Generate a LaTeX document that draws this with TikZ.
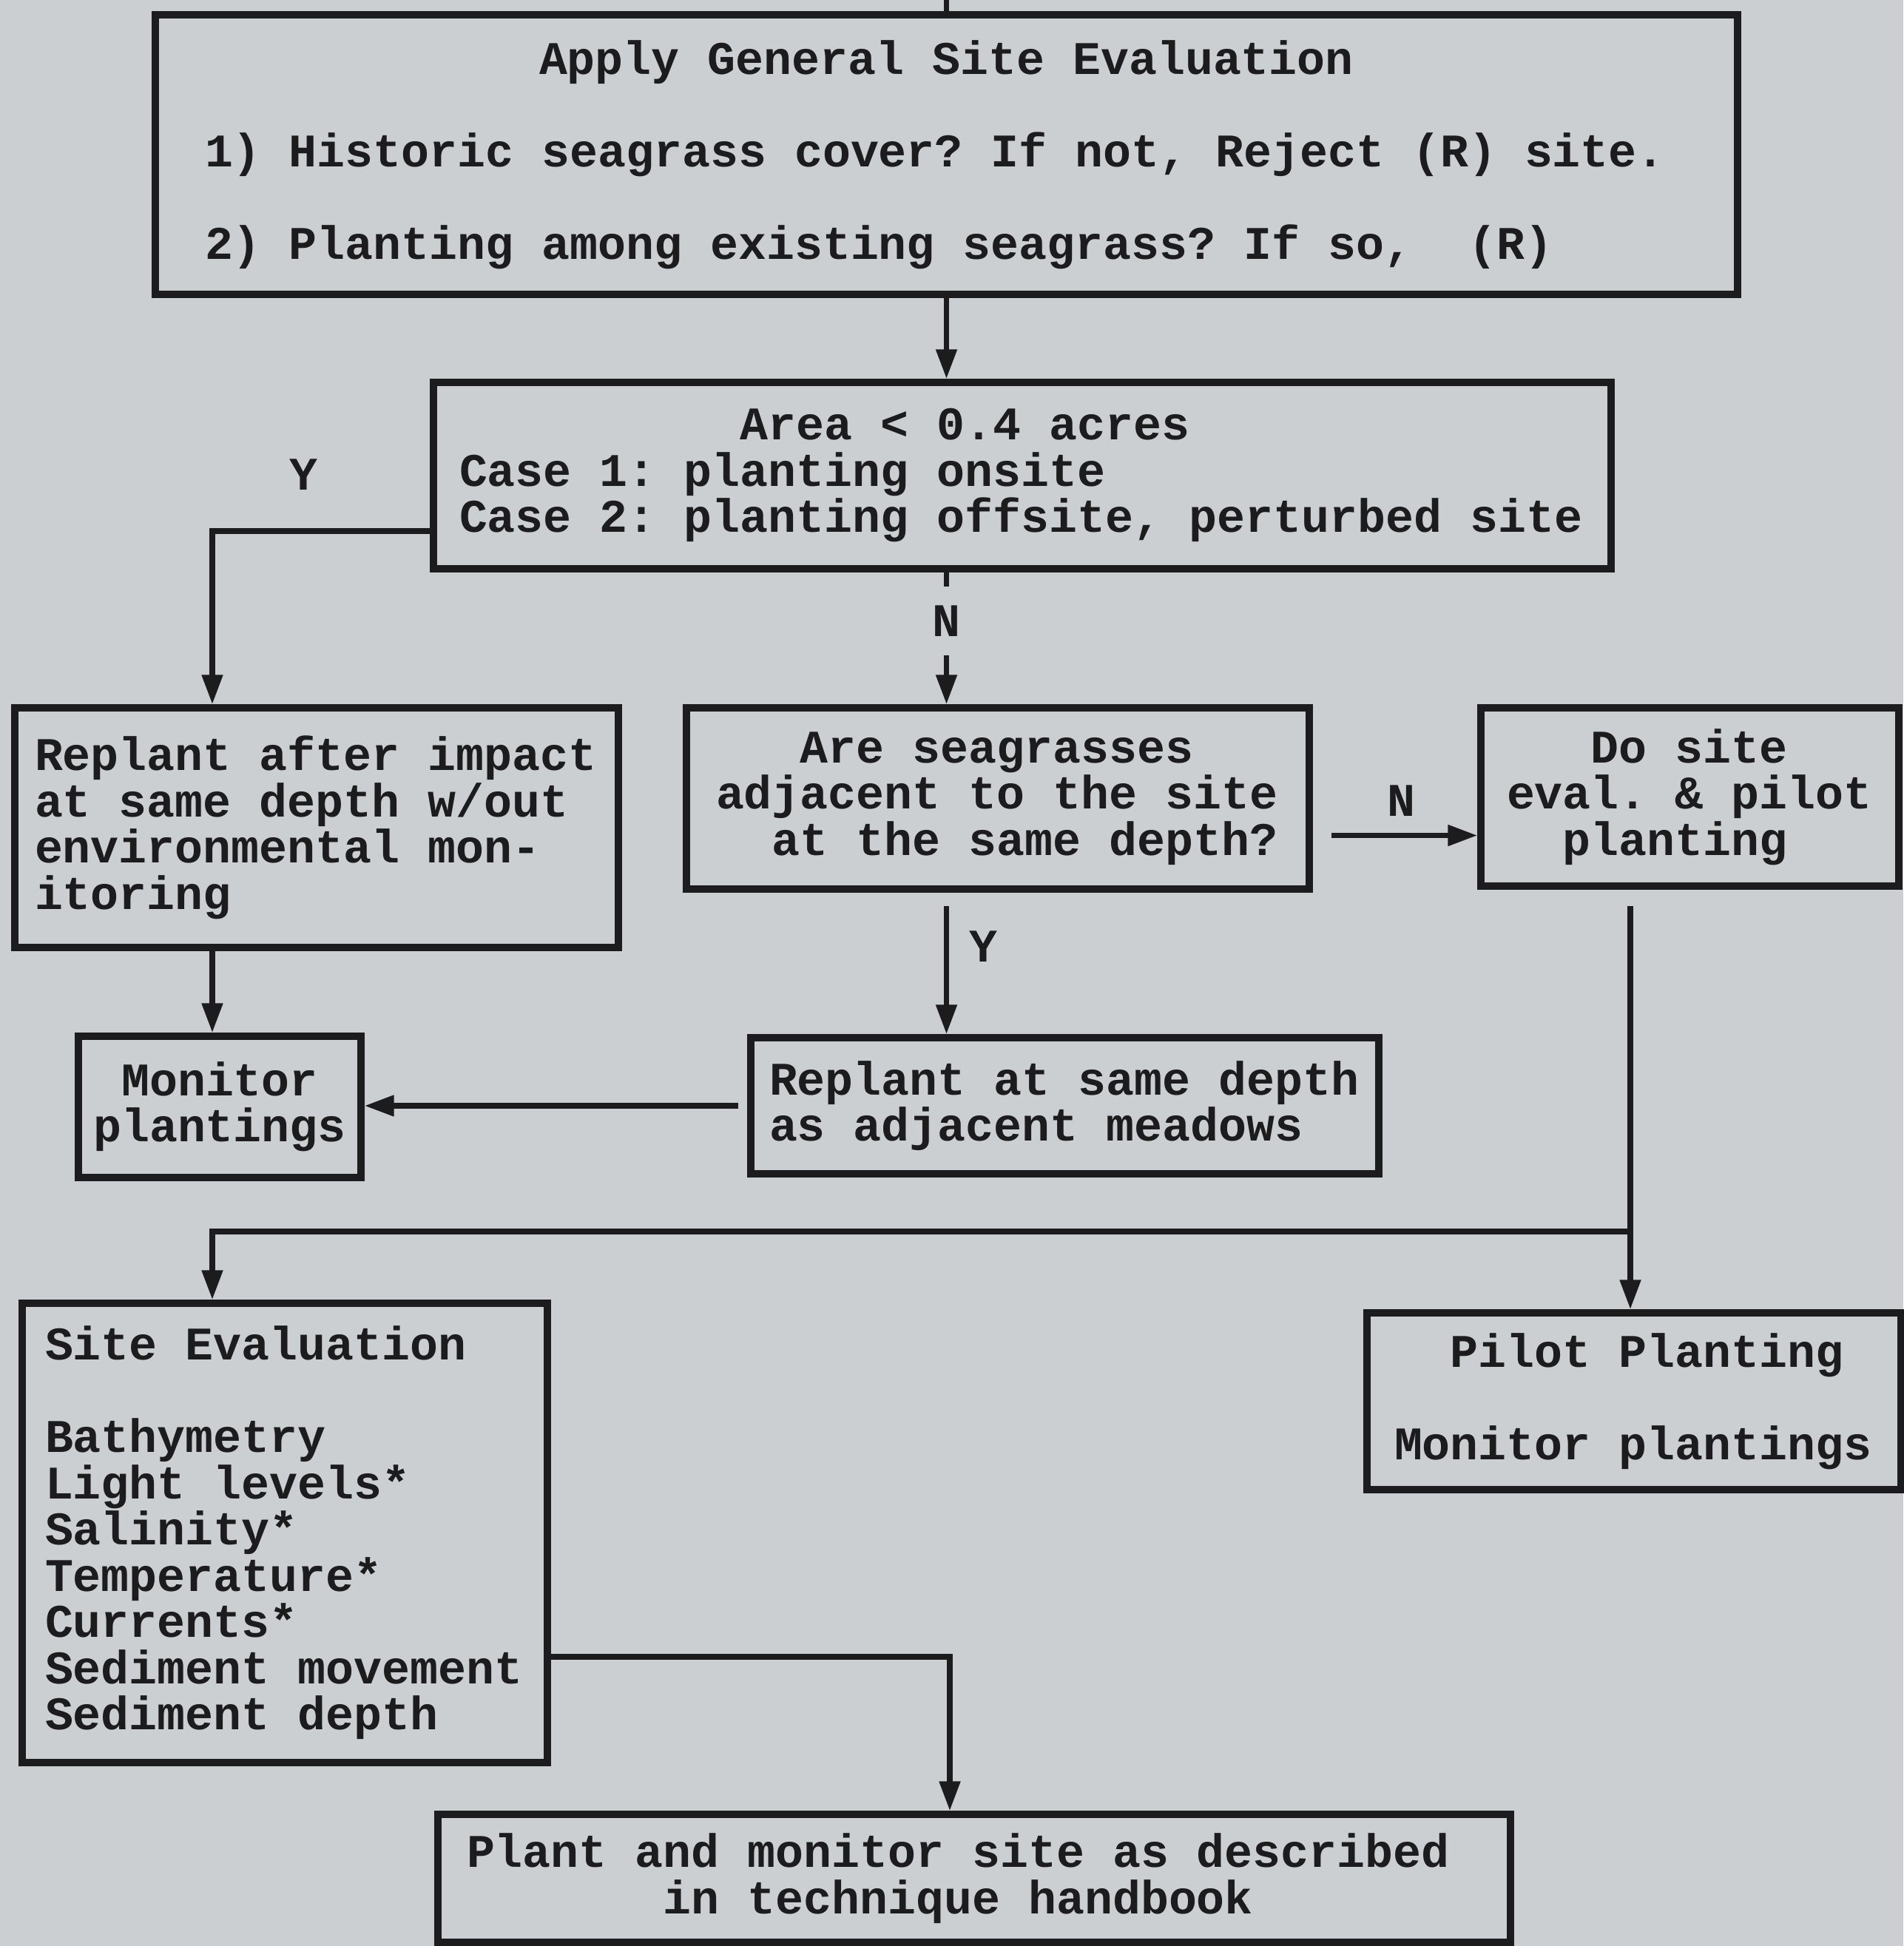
\documentclass[tikz,border=0pt]{standalone}
\usepackage{fontspec}
\usepackage{tikz}
\usetikzlibrary{arrows.meta}
\newfontfamily\boxfont{Liberation Mono}
\newcommand\monospacing{\frenchspacing\spaceskip=10.8016pt\relax\xspaceskip=10.8016pt\relax\lineskiplimit=-6pt\relax}
\definecolor{paper}{RGB}{204,207,209}
\definecolor{ink}{RGB}{28,28,30}

\begin{document}
\begin{tikzpicture}[
  every node/.style={font={\fontsize{18}{17.79}\boxfont\bfseries}, text=ink, execute at begin node=\monospacing},
  flowbox/.style={draw=ink, line width=2.6pt, rectangle, inner ysep=0pt, align=left},
  flow/.style={draw=ink, line width=2.2pt, -{Triangle[length=0.40cm, width=0.27cm]}},
  ] % seagrass site selection
  \fill[paper] (0,0) rectangle (25.73,-26.31);
  \useasboundingbox (0,0) rectangle (25.73,-26.31);
  \coordinate (entry) at (12.795,0);
  \coordinate (lcol) at (2.87,-16.65);
  \coordinate (rcol) at (22.04,-16.65);
  \coordinate (mcol) at (12.84,-22.40);

  \node[flowbox, minimum width=21.39cm, minimum height=3.78cm, inner xsep=0.67cm, text width=20.05cm] (gen) at (12.795,-2.09)
    {\makebox[\linewidth]{Apply General Site Evaluation}\\[0.625cm]1) Historic seagrass cover? If not, Reject (R) site.\\[0.625cm]2) Planting among existing seagrass? If so,\ \ (R)};
  \node[flowbox, minimum width=15.92cm, minimum height=2.52cm, inner xsep=0.35cm, text width=15.22cm] (area) at (13.82,-6.43)
    {\hphantom{xxxxxxxxxx}Area < 0.4 acres\\Case 1: planting onsite\\Case 2: planting offsite, perturbed site};
  \node[flowbox, minimum width=8.16cm, minimum height=3.24cm, inner xsep=0.27cm, text width=7.62cm] (after) at (4.28,-11.19)
    {Replant after impact\\at same depth w/out\\environmental mon-\\itoring};
  \node[flowbox, minimum width=8.42cm, minimum height=2.45cm, inner xsep=0.40cm, text width=7.62cm] (adjq) at (13.49,-10.795)
    {\hphantom{xxx}Are seagrasses\\adjacent to the site\\\hphantom{xx}at the same depth?};
  \node[flowbox, minimum width=5.65cm, minimum height=2.41cm, inner xsep=0.35cm, text width=4.95cm] (dosite) at (22.845,-10.775)
    {\hphantom{xxx}Do site\\eval. \& pilot\\\hphantom{xx}planting};
  \node[flowbox, minimum width=3.82cm, minimum height=1.91cm, inner xsep=0.19cm, text width=3.44cm, align=center] (monitor) at (2.97,-14.965)
    {Monitor\\plantings};
  \node[flowbox, minimum width=8.49cm, minimum height=1.84cm, inner xsep=0.25cm, text width=7.99cm] (sameD) at (14.395,-14.95)
    {Replant at same depth\\as adjacent meadows};
  \node[flowbox, minimum width=7.10cm, minimum height=6.21cm, inner xsep=0.31cm, text width=6.48cm] (siteev) at (3.85,-20.725)
    {Site Evaluation\\[0.625cm]Bathymetry\\Light levels*\\Salinity*\\Temperature*\\Currents*\\Sediment movement\\Sediment depth};
  \node[flowbox, minimum width=7.22cm, minimum height=2.39cm, inner xsep=0.37cm, text width=6.48cm] (pilot) at (22.09,-18.945)
    {\hphantom{xx}Pilot Planting\\[0.625cm]Monitor plantings};
  \node[flowbox, minimum width=14.50cm, minimum height=1.73cm, inner xsep=0.39cm, text width=13.72cm] (plant) at (13.17,-25.395)
    {Plant and monitor site as described\\\hphantom{xxxxxxx}in technique handbook};

  \draw[ink, line width=2.2pt] (entry) -- (gen.north);
  \draw[flow] (gen.south) -- (gen.south |- area.north);
  \draw[flow] ([yshift=-0.75cm]area.west) -| node[pos=0.29, above=0.40cm] {Y} (lcol |- after.north);
  \draw[flow] (gen.south |- area.south) -- node[pos=0.37, fill=paper, inner sep=0pt, minimum width=0.6cm, minimum height=0.93cm] {N} (gen.south |- adjq.north);
  \draw[flow, shorten <=0.25cm] ([yshift=-0.5cm]adjq.east) -- node[pos=0.54, above=0.10cm] {N} ([yshift=-0.5cm]adjq.east -| dosite.west);
  \draw[flow, shorten <=0.18cm] (gen.south |- adjq.south) -- node[pos=0.38, right=0.15cm] {Y} (gen.south |- sameD.north);
  \draw[flow] (lcol |- after.south) -- (lcol |- monitor.north);
  \draw[flow, shorten <=0.12cm] (sameD.west) -- (sameD.west -| monitor.east);
  \draw[flow, shorten <=0.22cm] (rcol |- dosite.south) -- (rcol |- pilot.north);
  \draw[flow] (rcol) -- (lcol) -- (lcol |- siteev.north);
  \draw[flow] (siteev.east |- mcol) -| (mcol |- plant.north);
\end{tikzpicture}
\end{document}
